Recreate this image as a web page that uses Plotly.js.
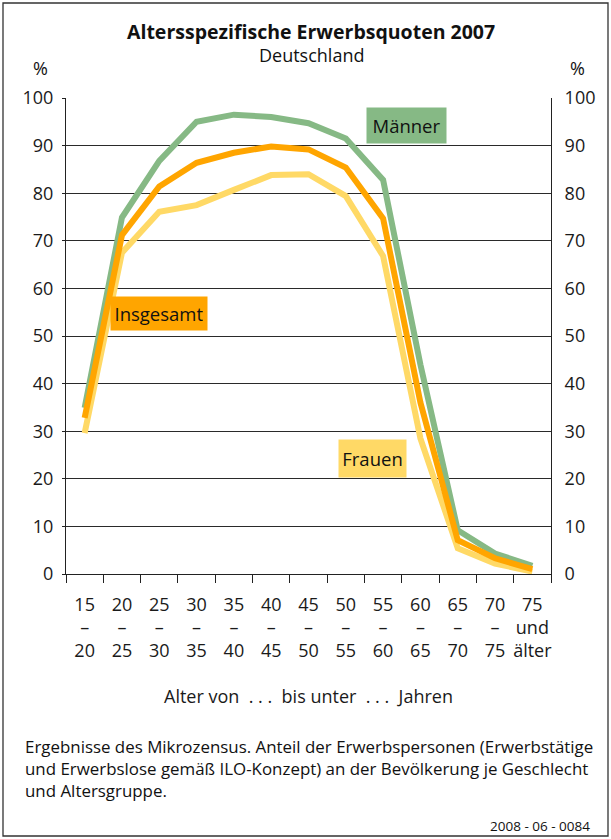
<!DOCTYPE html>
<html>
<head>
<meta charset="utf-8">
<script src="https://cdn.plot.ly/plotly-3.0.1.min.js"></script>
<style>
html,body{margin:0;padding:0;background:#fff;}
#chart{width:611px;height:839px;}
</style>
</head>
<body>
<div id="chart"></div>
<script>
// Data
var categories = ["15–20","20–25","25–30","30–35","35–40","40–45","45–50","50–55","55–60","60–65","65–70","70–75","75 und älter"];
var tickLabels = ["15<br>–<br>20","20<br>–<br>25","25<br>–<br>30","30<br>–<br>35","35<br>–<br>40","40<br>–<br>45","45<br>–<br>50","50<br>–<br>55","55<br>–<br>60","60<br>–<br>65","65<br>–<br>70","70<br>–<br>75","75<br>und<br>älter"];
var maenner   = [34.9, 74.9, 86.8, 95.0, 96.5, 96.0, 94.7, 91.5, 82.8, 44.0, 9.2, 4.3, 1.7];
var frauen    = [29.6, 67.5, 76.1, 77.5, 80.7, 83.8, 84.0, 79.4, 66.8, 28.5, 5.4, 2.2, 0.5];
var insgesamt = [32.8, 71.2, 81.4, 86.4, 88.5, 89.8, 89.2, 85.4, 74.7, 36.0, 7.1, 3.3, 1.0];
var yTicks = [0,10,20,30,40,50,60,70,80,90,100];

var FONT = "Open Sans, Noto Sans, sans-serif";
var C_M = "#86b985", C_F = "#ffd966", C_I = "#ffa500";

var traces = [
  {x: categories, y: maenner, type: "scatter", mode: "lines", name: "Männer",
   line: {color: C_M, width: 6}, hoverinfo: "none"},
  {x: categories, y: frauen, type: "scatter", mode: "lines", name: "Frauen",
   line: {color: C_F, width: 6}, hoverinfo: "none"},
  {x: categories, y: insgesamt, type: "scatter", mode: "lines", name: "Insgesamt",
   line: {color: C_I, width: 6}, hoverinfo: "none"},
  {x: categories, y: categories.map(function(){return null;}), yaxis: "y2", type: "scatter",
   mode: "lines", showlegend: false, hoverinfo: "none"}
];

var W = 611, H = 839, L = 66, R = 60, T = 98, B = 265;
var pw = W - L - R, ph = H - T - B;
function px(v){ return (v - L) / pw; }
function py(v){ return (H - B - v) / ph; }

var layout = {
  width: W, height: H,
  margin: {l: L, r: R, t: T, b: B, pad: 0},
  paper_bgcolor: "#fff", plot_bgcolor: "#fff",
  showlegend: false,
  font: {family: FONT, size: 18, color: "#1a1a1a"},
  xaxis: {
    type: "category",
    tickvals: categories, ticktext: tickLabels, tickangle: 0,
    tickson: "boundaries", ticks: "outside", ticklen: 8, tickcolor: "#222", tickwidth: 1,
    ticklabelstandoff: 14,
    showline: true, linecolor: "#222", linewidth: 1,
    showgrid: false, zeroline: false,
    range: [-0.5, 12.5],
    tickfont: {family: FONT, size: 18, color: "#1a1a1a"},
    title: {text: "Alter von  . . .  bis unter  . . .  Jahren", font: {family: FONT, size: 18, color: "#1a1a1a"}, standoff: 28},
    automargin: false, fixedrange: true
  },
  yaxis: {
    range: [0, 100], tickvals: yTicks,
    showgrid: true, gridcolor: "#2a2a2a", gridwidth: 1,
    showline: true, linecolor: "#222", linewidth: 1, mirror: false,
    ticks: "outside", ticklen: 3, tickcolor: "#222",
    ticklabelstandoff: 5,
    zeroline: false,
    tickfont: {family: FONT, size: 18, color: "#1a1a1a"},
    automargin: false, fixedrange: true
  },
  yaxis2: {
    range: [0, 100], tickvals: yTicks, overlaying: "y", side: "right",
    showgrid: false, showline: true, linecolor: "#222", linewidth: 1,
    ticks: "", ticklabelstandoff: 9, zeroline: false,
    tickfont: {family: FONT, size: 18, color: "#1a1a1a"},
    automargin: false, fixedrange: true
  },
  shapes: [
    {type: "rect", xref: "paper", yref: "paper",
     x0: px(3), x1: px(608), y0: py(836), y1: py(3),
     line: {color: "#333", width: 1.3}, fillcolor: "rgba(0,0,0,0)", layer: "below"}
  ],
  annotations: [
    {xref: "paper", yref: "paper", x: px(311), y: py(31), text: "<b>Altersspezifische Erwerbsquoten 2007</b>",
     showarrow: false, font: {family: FONT, size: 19.5, color: "#111"}, xanchor: "center", yanchor: "middle"},
    {xref: "paper", yref: "paper", x: px(311), y: py(55), text: "Deutschland",
     showarrow: false, font: {family: FONT, size: 18, color: "#111"}, xanchor: "center", yanchor: "middle"},
    {xref: "paper", yref: "paper", x: px(40), y: py(68), text: "%",
     showarrow: false, font: {family: FONT, size: 18, color: "#111"}, xanchor: "center", yanchor: "middle"},
    {xref: "paper", yref: "paper", x: px(577), y: py(68), text: "%",
     showarrow: false, font: {family: FONT, size: 18, color: "#111"}, xanchor: "center", yanchor: "middle"},
    {xref: "x", yref: "y", x: 8.64, y: 94.3, text: "Männer", showarrow: false,
     font: {family: FONT, size: 18.5, color: "#111"}, bgcolor: C_M, width: 71, height: 27, borderpad: 4,
     xanchor: "center", yanchor: "middle"},
    {xref: "x", yref: "y", x: 1.99, y: 54.7, text: "Insgesamt", showarrow: false,
     font: {family: FONT, size: 18.5, color: "#111"}, bgcolor: C_I, width: 88, height: 25, borderpad: 4,
     xanchor: "center", yanchor: "middle"},
    {xref: "x", yref: "y", x: 7.72, y: 24.2, text: "Frauen", showarrow: false,
     font: {family: FONT, size: 18.5, color: "#111"}, bgcolor: C_F, width: 59, height: 29, borderpad: 4,
     xanchor: "center", yanchor: "middle"},
    {xref: "paper", yref: "paper", x: px(23), y: py(746), text: "Ergebnisse des Mikrozensus. Anteil der Erwerbspersonen (Erwerbstätige",
     showarrow: false, font: {family: FONT, size: 16.9, color: "#111"}, xanchor: "left", yanchor: "middle"},
    {xref: "paper", yref: "paper", x: px(23), y: py(768), text: "und Erwerbslose gemäß ILO-Konzept) an der Bevölkerung je Geschlecht",
     showarrow: false, font: {family: FONT, size: 16.9, color: "#111"}, xanchor: "left", yanchor: "middle"},
    {xref: "paper", yref: "paper", x: px(23), y: py(790), text: "und Altersgruppe.",
     showarrow: false, font: {family: FONT, size: 16.9, color: "#111"}, xanchor: "left", yanchor: "middle"},
    {xref: "paper", yref: "paper", x: px(592), y: py(826), text: "2008 - 06 - 0084",
     showarrow: false, font: {family: FONT, size: 13.5, color: "#111"}, xanchor: "right", yanchor: "middle"}
  ]
};

Plotly.newPlot("chart", traces, layout, {staticPlot: true, displayModeBar: false});
</script>
</body>
</html>
